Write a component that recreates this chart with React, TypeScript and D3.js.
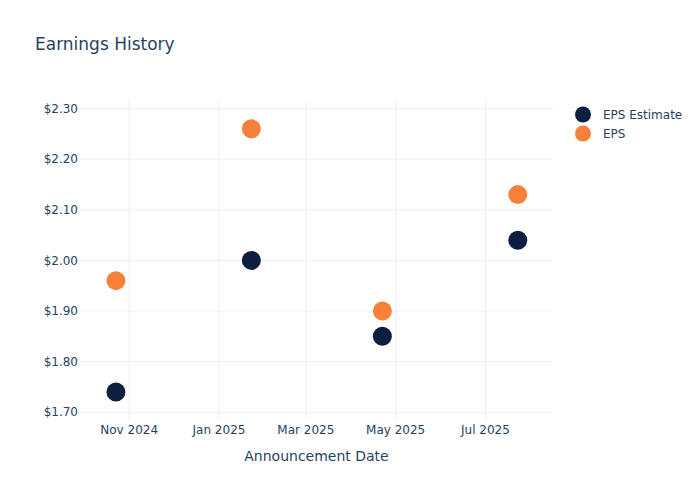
import React from "react";
import * as d3 from "d3";

const dates = ["2024-10-23", "2025-01-23", "2025-04-22", "2025-07-23"];
const epsEstimate = [1.74, 2.0, 1.85, 2.04];
const epsActual = [1.96, 2.26, 1.9, 2.13];
const yTicks = [1.7, 1.8, 1.9, 2.0, 2.1, 2.2, 2.3];
const xTickDates = ["2024-11-01", "2025-01-01", "2025-03-01", "2025-05-01", "2025-07-01"];
const seriesNames = ["EPS Estimate", "EPS"];

const W = 700, H = 500;
const M = { l: 80, r: 147, t: 100, b: 80 };
const NAVY = "#0c1f40";
const ORANGE = "#f7813a";
const TXT = "#2a3f5f";
const GRID = "#ebf0f8";
const FONT = "'DejaVu Sans', 'Open Sans', verdana, arial, sans-serif";

const parse = d3.utcParse("%Y-%m-%d");
const fmtX = d3.utcFormat("%b %Y");

export default function App() {
  const x = d3
    .scaleUtc()
    .domain([new Date(Date.UTC(2024, 8, 28, 14)), new Date(Date.UTC(2025, 7, 15, 22))])
    .range([M.l, W - M.r]);
  const y = d3.scaleLinear().domain([1.6846, 2.317]).range([H - M.b, M.t]);
  const r = 9.5;

  return (
    <svg width={W} height={H} style={{ position: "absolute", left: 0, top: 0, fontFamily: FONT }}>
      <rect width={W} height={H} fill="#fff" />
      {xTickDates.map((d) => (
        <line key={"gx" + d} x1={x(parse(d)!)} x2={x(parse(d)!)} y1={M.t} y2={H - M.b} stroke={GRID} strokeWidth={1} />
      ))}
      {yTicks.map((t) => (
        <line key={"gy" + t} x1={M.l} x2={W - M.r} y1={y(t)} y2={y(t)} stroke={GRID} strokeWidth={1} />
      ))}
      {yTicks.map((t) => (
        <text key={"ty" + t} x={M.l - 2} y={y(t)} dy="0.35em" textAnchor="end" fontSize={12} fill={TXT}>
          {"$" + t.toFixed(2)}
        </text>
      ))}
      {xTickDates.map((d) => (
        <text key={"tx" + d} x={x(parse(d)!)} y={433.5} textAnchor="middle" fontSize={12} fill={TXT}>
          {fmtX(parse(d)!)}
        </text>
      ))}
      {dates.map((d, i) => (
        <circle key={"e" + i} cx={x(parse(d)!)} cy={y(epsEstimate[i])} r={r} fill={NAVY} />
      ))}
      {dates.map((d, i) => (
        <circle key={"a" + i} cx={x(parse(d)!)} cy={y(epsActual[i])} r={r} fill={ORANGE} />
      ))}
      <text x={35} y={50} fontSize={17} fill={TXT}>Earnings History</text>
      <text x={(M.l + W - M.r) / 2} y={461} textAnchor="middle" fontSize={14} fill={TXT}>Announcement Date</text>
      {seriesNames.map((n, i) => (
        <g key={n} transform={`translate(583, ${114.5 + i * 19})`}>
          <circle r={8} fill={i === 0 ? NAVY : ORANGE} />
          <text x={20} dy="0.35em" fontSize={12} fill={TXT}>{n}</text>
        </g>
      ))}
    </svg>
  );
}
